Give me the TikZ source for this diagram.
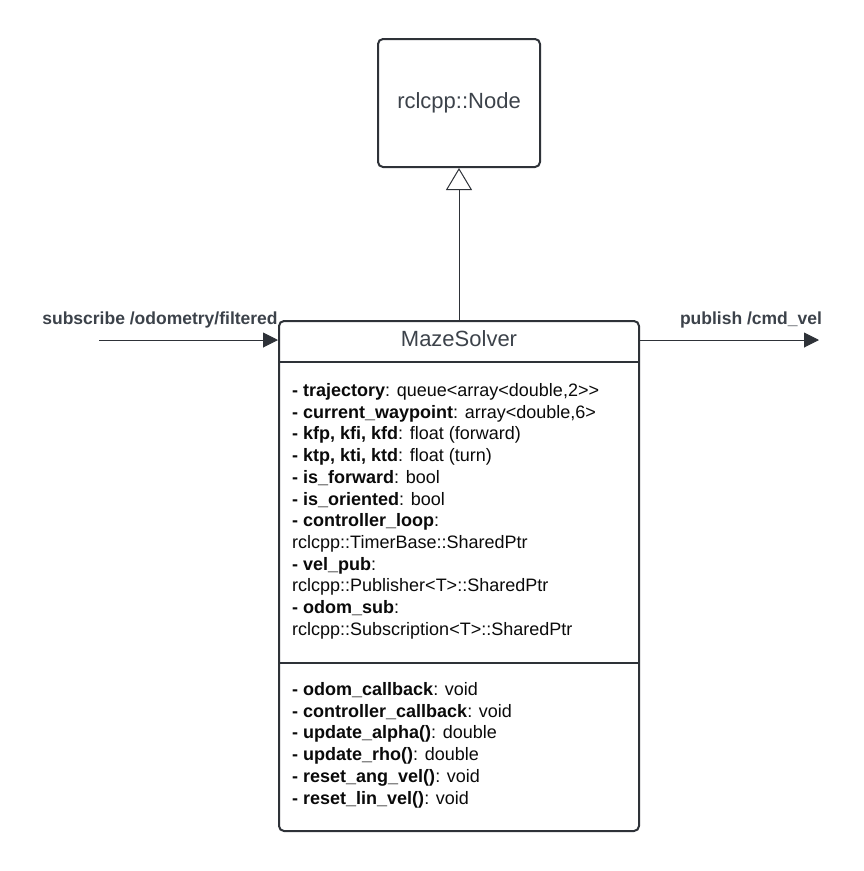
\documentclass[tikz,border=0pt]{standalone}
\usepackage{fontspec}
\setmainfont{Liberation Sans}
\usetikzlibrary{arrows.meta}
\definecolor{linec}{RGB}{46,50,56}
\definecolor{headc}{RGB}{60,66,74}
\definecolor{bodyc}{RGB}{10,10,10}
\tikzset{
  umlbox/.style={draw=linec, line width=2pt, rounded corners=5pt, inner sep=0pt},
  sep/.style={draw=linec, line width=2pt},
  head/.style={text=headc, font=\fontsize{22}{26}\selectfont, inner sep=0pt, anchor=base},
  attr/.style={text=bodyc, font=\fontsize{18}{21.7}\selectfont, inner sep=0pt, anchor=base west},
  lbl/.style={text=headc, font=\fontsize{17.5}{21}\selectfont\bfseries, inner sep=0pt, anchor=base},
  flow/.style={draw=linec, line width=1pt, -{Triangle[length=15pt,width=15pt]}},
  inh/.style={draw=linec, line width=1pt, -{Triangle[open,length=22pt,width=26pt,line width=1pt]}}
}
\begin{document}
\begin{tikzpicture}[x=1pt,y=-1pt]
\useasboundingbox (0,0) rectangle (863,871);
% base class
\node[umlbox, minimum width=162pt, minimum height=128pt] (base) at (459,103) {};
\node[head] (basename) at (459,108) {rclcpp::Node};
% MazeSolver class
\node[umlbox, minimum width=360pt, minimum height=510pt] (cls) at (459,576) {};
\node[head] (clsname) at (459,346) {MazeSolver};
\coordinate (s1) at (0,362);
\coordinate (s2) at (0,663);
\draw[sep] (s1 -| cls.west) -- (s1 -| cls.east);
\draw[sep] (s2 -| cls.west) -- (s2 -| cls.east);
% attributes
\node[attr] (a1) at (292,396.5) {\textbf{- trajectory}: queue<array<double,2>{}>};
\node[attr] (a2) at (292,418.2) {\textbf{- current\_waypoint}: array<double,6>};
\node[attr] (a3) at (292,439.9) {\textbf{- kfp, kfi, kfd}: float (forward)};
\node[attr] (a4) at (292,461.6) {\textbf{- ktp, kti, ktd}: float (turn)};
\node[attr] (a5) at (292,483.3) {\textbf{- is\_forward}: bool};
\node[attr] (a6) at (292,505.0) {\textbf{- is\_oriented}: bool};
\node[attr] (a7) at (292,526.7) {\textbf{- controller\_loop}:};
\node[attr] (a8) at (292,548.4) {rclcpp::TimerBase::SharedPtr};
\node[attr] (a9) at (292,570.1) {\textbf{- vel\_pub}:};
\node[attr] (a10) at (292,591.8) {rclcpp::Publisher<T>::SharedPtr};
\node[attr] (a11) at (292,613.5) {\textbf{- odom\_sub}:};
\node[attr] (a12) at (292,635.2) {rclcpp::Subscription<T>::SharedPtr};
% methods
\node[attr] (m1) at (292,695.5) {\textbf{- odom\_callback}: void};
\node[attr] (m2) at (292,717.2) {\textbf{- controller\_callback}: void};
\node[attr] (m3) at (292,738.9) {\textbf{- update\_alpha()}: double};
\node[attr] (m4) at (292,760.6) {\textbf{- update\_rho()}: double};
\node[attr] (m5) at (292,782.3) {\textbf{- reset\_ang\_vel()}: void};
\node[attr] (m6) at (292,804.0) {\textbf{- reset\_lin\_vel()}: void};
% inheritance
\draw[inh] (cls.north) -- (base.south);
% topics
\coordinate (subsrc) at (99,340);
\coordinate (pubend) at (819,340);
\draw[flow] (subsrc) -- (subsrc -| cls.west);
\draw[flow] (pubend -| cls.east) -- (pubend);
\node[lbl] (sublbl) at (160,324) {subscribe /odometry/filtered};
\node[lbl] (publbl) at (751,324) {publish /cmd\_vel};
\end{tikzpicture}
\end{document}
